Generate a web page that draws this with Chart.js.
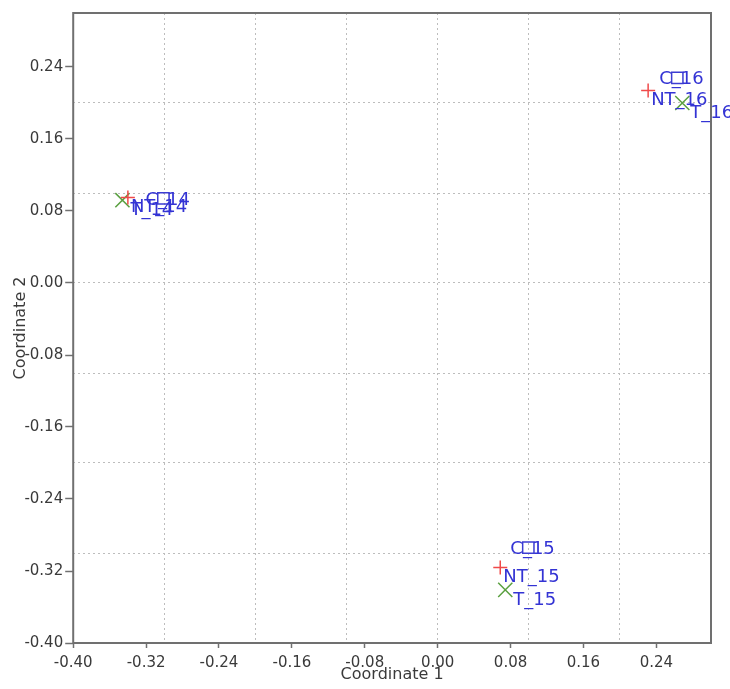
<!DOCTYPE html>
<html>
<head>
<meta charset="utf-8">
<script src="https://cdn.jsdelivr.net/npm/chart.js@4"></script>
<style>
html, body { margin: 0; padding: 0; background: #fff; }
</style>
</head>
<body>
<canvas id="chart" width="730" height="689"></canvas>
<script>
// Point data (Coordinate 1 / Coordinate 2)
const cNames = ["C_14", "C_15", "C_16"];
const cX = [-0.301, 0.0995, 0.263];
const cY = [0.094, -0.294, 0.228];

const ntNames = ["NT_14", "NT_15", "NT_16"];
const ntX = [-0.340, 0.0687, 0.231];
const ntY = [0.095, -0.316, 0.214];

const tNames = ["T_14", "T_15", "T_16"];
const tX = [-0.346, 0.0742, 0.2685];
const tY = [0.092, -0.341, 0.200];

// Tick labels and grid positions
const xTicks = [-0.40, -0.32, -0.24, -0.16, -0.08, 0.00, 0.08, 0.16, 0.24];
const yTicks = [-0.40, -0.32, -0.24, -0.16, -0.08, 0.00, 0.08, 0.16, 0.24];
const xGrid = [-0.3, -0.2, -0.1, 0.0, 0.1, 0.2];
const yGrid = [-0.3, -0.2, -0.1, 0.0, 0.1, 0.2];

const toPoints = (xs, ys) => xs.map((x, i) => ({ x: x, y: ys[i] }));

const tickFont = { family: "DejaVu Sans", size: 15 };
const titleFont = { family: "DejaVu Sans", size: 16 };
const textColor = "#3a3a3a";
const labelColor = "#3333d4";

// label offsets from each marker, per group
const labelOffset = { C: [-18, 2], NT: [3, 10], T: [8, 10] };

const pointLabels = {
  id: "pointLabels",
  afterDatasetsDraw(chart) {
    const ctx = chart.ctx;
    ctx.save();
    ctx.font = "18px 'DejaVu Sans'";
    ctx.fillStyle = labelColor;
    ctx.textBaseline = "middle";
    ctx.textAlign = "left";
    chart.data.datasets.forEach((ds, i) => {
      const off = labelOffset[ds.label];
      chart.getDatasetMeta(i).data.forEach((pt, j) => {
        ctx.fillText(ds.names[j], pt.x + off[0], pt.y + off[1]);
      });
    });
    ctx.restore();
  }
};

const frame = {
  id: "frame",
  afterDraw(chart) {
    const a = chart.chartArea;
    const ctx = chart.ctx;
    ctx.save();
    ctx.strokeStyle = "#707070";
    ctx.lineWidth = 2;
    ctx.strokeRect(a.left, a.top, a.right - a.left, a.bottom - a.top);
    ctx.restore();
  }
};

const gridAxis = (vals) => ({
  type: "linear",
  min: -0.4,
  max: 0.3,
  afterBuildTicks: s => { s.ticks = vals.map(v => ({ value: v })); },
  ticks: { display: false },
  grid: { drawTicks: false, color: "#bdbdbd", lineWidth: 1 },
  border: { display: false, dash: [2, 3] }
});

new Chart(document.getElementById("chart").getContext("2d"), {
  type: "scatter",
  data: {
    datasets: [
      {
        label: "C", names: cNames, data: toPoints(cX, cY),
        pointStyle: "rect", pointRadius: 8, borderWidth: 1.5,
        borderColor: "#3c3cd2", backgroundColor: "rgba(0,0,0,0)",
        xAxisID: "x", yAxisID: "y"
      },
      {
        label: "NT", names: ntNames, data: toPoints(ntX, ntY),
        pointStyle: "cross", pointRadius: 7, borderWidth: 1.5,
        borderColor: "#f04a4a", backgroundColor: "rgba(0,0,0,0)",
        xAxisID: "x", yAxisID: "y"
      },
      {
        label: "T", names: tNames, data: toPoints(tX, tY),
        pointStyle: "crossRot", pointRadius: 10, borderWidth: 1.5,
        borderColor: "#5aa040", backgroundColor: "rgba(0,0,0,0)",
        xAxisID: "x", yAxisID: "y"
      }
    ]
  },
  options: {
    responsive: false,
    animation: false,
    layout: { padding: { top: 13, right: 19, left: 0, bottom: 0 } },
    plugins: {
      legend: { display: false },
      tooltip: { enabled: false }
    },
    scales: {
      x: {
        type: "linear",
        position: "bottom",
        min: -0.4,
        max: 0.3,
        afterBuildTicks: s => { s.ticks = xTicks.map(v => ({ value: v })); },
        ticks: {
          callback: v => v.toFixed(2),
          font: tickFont, color: textColor, padding: 6,
          maxRotation: 0, autoSkip: false
        },
        grid: { drawOnChartArea: false, tickLength: 5, tickColor: "#707070", tickWidth: 1.5 },
        border: { display: false },
        title: {
          display: true, text: "Coordinate 1", font: titleFont, color: textColor,
          padding: { top: -13.2, bottom: 5 }
        }
      },
      y: {
        type: "linear",
        position: "left",
        min: -0.4,
        max: 0.3,
        afterBuildTicks: s => { s.ticks = yTicks.map(v => ({ value: v })); },
        ticks: {
          callback: v => v.toFixed(2),
          font: tickFont, color: textColor, padding: 2, autoSkip: false
        },
        grid: { drawOnChartArea: false, tickLength: 8, tickColor: "#707070", tickWidth: 1.5 },
        border: { display: false },
        title: {
          display: true, text: "Coordinate 2", font: titleFont, color: textColor,
          padding: { top: 11, bottom: -7.8 }
        }
      },
      xg: Object.assign({ position: "bottom" }, gridAxis(xGrid)),
      yg: Object.assign({ position: "left" }, gridAxis(yGrid))
    }
  },
  plugins: [pointLabels, frame]
});
</script>
</body>
</html>
